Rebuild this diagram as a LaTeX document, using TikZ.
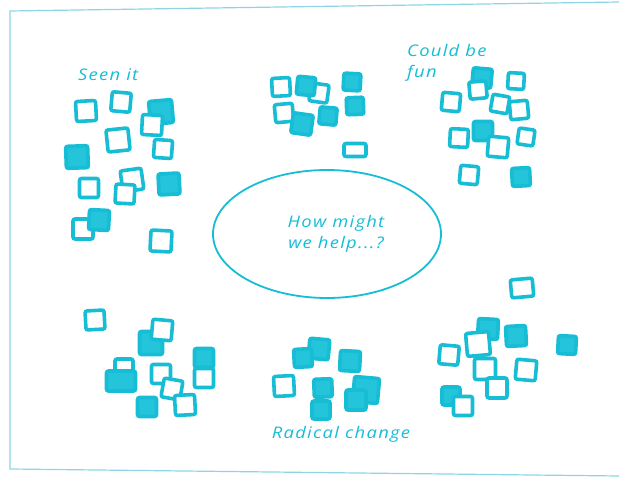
\documentclass[tikz,border=0pt]{standalone}
\usepackage{fontspec}
\newfontfamily\hand{Open Sans}[FakeStretch=1.15, LetterSpace=8]
\usetikzlibrary{positioning,shapes.geometric}

\definecolor{ink}{RGB}{22,189,212}
\definecolor{inkfill}{RGB}{36,196,219}
\definecolor{framecol}{RGB}{140,214,228}

\tikzset{
    note/.style={draw=ink, line width=3.6pt, rounded corners=2pt,
        minimum size=20pt, inner sep=0pt},
    label/.style={text=ink, font=\hand\itshape\fontsize{16}{21}\selectfont,
        align=left, inner sep=0pt}
}

\begin{document}
\begin{tikzpicture}[x=1pt, y=-1pt]
    \useasboundingbox (0,0) rectangle (619,478);
    % Frame
    \draw[framecol, line width=1.2pt] (619,2) -- (10,11) -- (10,469) -- (619,476);
    % Labels
    \node[label, anchor=west] (seen) at (78,75) {Seen it};
    \node[label, anchor=west] (fun) at (407,63) {Could be\\fun};
    \node[label] (radical) at (341,434) {Radical change};
    % Question
    \node[ellipse, draw=ink, line width=1.8pt, minimum width=228pt,
        minimum height=128pt] (hub) at (327,234) {};
    \node[label, align=center] (ask) at (336,234) {How might\\we help...?};
    % Seen it
    \foreach \x/\y/\s/\r/\f [count=\i] in {
        161/112/23/5/inkfill, 152/125/20/-3/white, 86/111/20/3/white,
        121/102/19/-5/white, 118/140/22/6/white, 163/149/18/-4/white,
        77/157/22/2/inkfill, 89/188/19/0/white, 132/180/21/8/white,
        125/194/19/-3/white, 169/184/21/3/inkfill, 83/229/20/0/white,
        99/220/20/-3/inkfill, 161/241/21/-3/white}
        \node[note, minimum size=\s pt, rotate=\r, fill=\f] (seen\i) at (\x,\y) {};
    % Top
    \foreach \x/\y/\s/\r/\f [count=\i] in {
        281/87/18/3/white, 319/93/18/-8/white, 306/86/18/-5/inkfill,
        284/113/18/5/white, 302/124/20/-8/inkfill, 328/116/17/-5/inkfill,
        352/82/17/-3/inkfill, 355/106/17/2/inkfill}
        \node[note, minimum size=\s pt, rotate=\r, fill=\f] (top\i) at (\x,\y) {};
    \node[note, minimum width=22pt, minimum height=13pt, fill=white] (top9) at (355,150) {};
    % Could be fun
    \foreach \x/\y/\s/\r/\f [count=\i] in {
        482/78/19/-5/inkfill, 478/90/17/5/white, 516/81/16/-3/white,
        451/102/18/-5/white, 500/104/17/-10/white, 519/110/18/5/white,
        459/138/18/-3/white, 483/131/19/0/inkfill, 498/147/20/-5/white,
        526/137/16/-8/white, 469/175/18/-5/white, 521/177/18/3/inkfill}
        \node[note, minimum size=\s pt, rotate=\r, fill=\f] (fun\i) at (\x,\y) {};
    % Bottom left
    \foreach \x/\y/\s/\r/\f [count=\i] in {
        95/320/19/3/white, 151/343/23/0/inkfill, 162/330/20/-5/white,
        124/368/18/0/white, 204/358/19/0/inkfill, 204/378/19/0/white,
        161/374/19/0/white, 172/389/19/-10/white, 185/405/20/3/white,
        147/407/19/0/inkfill}
        \node[note, minimum size=\s pt, rotate=\r, fill=\f] (left\i) at (\x,\y) {};
    \node[note, minimum width=29pt, minimum height=20pt, fill=inkfill] (left11) at (121,381) {};
    % Radical change
    \foreach \x/\y/\s/\r/\f [count=\i] in {
        319/349/20/-5/inkfill, 303/358/18/3/inkfill, 350/361/20/-3/inkfill,
        284/386/20/3/white, 323/388/18/2/inkfill, 366/390/25/-5/inkfill,
        356/400/20/0/inkfill, 321/410/18/0/inkfill}
        \node[note, minimum size=\s pt, rotate=\r, fill=\f] (rad\i) at (\x,\y) {};
    % Bottom right
    \node[note, minimum width=22pt, minimum height=18pt, rotate=5, fill=white] (right0) at (522,288) {};
    \foreach \x/\y/\s/\r/\f [count=\i] in {
        488/329/20/-3/inkfill, 516/336/20/3/inkfill, 567/345/18/-3/inkfill,
        449/355/19/-5/white, 478/344/23/5/white, 485/369/21/0/white,
        526/370/20/-5/white, 497/388/20/0/white, 451/396/18/0/inkfill,
        463/406/19/0/white}
        \node[note, minimum size=\s pt, rotate=\r, fill=\f] (right\i) at (\x,\y) {};
\end{tikzpicture}
\end{document}
